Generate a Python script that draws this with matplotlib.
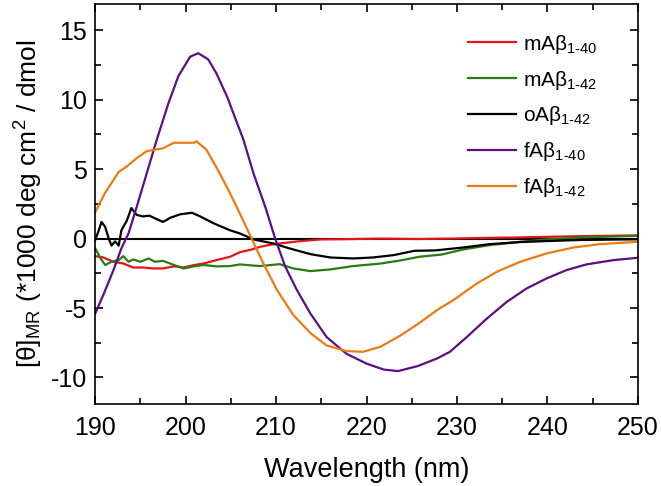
import numpy as np
import matplotlib.pyplot as plt
from matplotlib.ticker import MultipleLocator

plt.rcParams['font.family'] = ['Liberation Sans', 'DejaVu Sans']
plt.rcParams['mathtext.fontset'] = 'custom'
plt.rcParams['mathtext.rm'] = 'Liberation Sans'
plt.rcParams['mathtext.it'] = 'Liberation Sans:italic'
plt.rcParams['axes.unicode_minus'] = False

# CD spectra (wavelength nm, ellipticity)
wl_m40 = [190, 190.9, 192, 193.1, 194.2, 195.3, 196.4, 197.5, 198.7, 199.8, 200.9, 202,
          203.4, 204.9, 206, 207.2, 208.2, 209.3, 210.4, 212.7, 214.9, 217.8, 221.5,
          225.6, 229.3, 233, 236.6, 240.3, 244, 250]
m40 = [-1.26, -1.36, -1.67, -1.79, -2.08, -2.08, -2.15, -2.15, -2.0, -2.08, -1.91, -1.79,
       -1.55, -1.31, -0.98, -0.8, -0.6, -0.45, -0.35, -0.18, -0.06, -0.04, 0.0,
       -0.03, 0.0, 0.05, 0.08, 0.13, 0.18, 0.23]

wl_m42 = [190, 190.6, 191.1, 191.8, 192.6, 193.1, 193.7, 194.2, 195, 195.9, 196.6, 197.5,
          198.7, 199.8, 200.9, 202, 203.4, 204.9, 206, 208.2, 210.4, 211.9, 213.8,
          216, 218.5, 221.5, 223.7, 225.9, 228.3, 230.7, 233.6, 237, 239.9, 243.6, 250]
m42 = [-0.7, -1.43, -1.9, -1.67, -1.55, -1.26, -1.67, -1.5, -1.67, -1.43, -1.67, -1.6,
       -1.9, -2.15, -2.0, -1.9, -2.0, -1.98, -1.86, -1.98, -1.84, -2.15, -2.34,
       -2.22, -1.98, -1.8, -1.58, -1.3, -1.15, -0.78, -0.47, -0.23, -0.06, 0.08, 0.2]

wl_o42 = [190, 190.4, 190.7, 191.1, 191.5, 191.8, 192.2, 192.6, 192.9, 193.5, 194.0, 194.6,
          195.3, 196.0, 196.8, 197.5, 198.3, 199.4, 200.7, 201.6, 203.1, 204.9, 206.0,
          207.5, 209.7, 211.5, 213.8, 216, 218.5, 220.7, 223, 225.3, 227.6, 230.7, 233.6,
          237, 239.9, 243.6, 250]
o42 = [-0.1, 0.6, 1.2, 0.85, 0.0, -0.5, -0.2, -0.5, 0.6, 1.3, 2.2, 1.7,
       1.6, 1.65, 1.4, 1.2, 1.5, 1.75, 1.86, 1.6, 1.1, 0.6, 0.37,
       -0.06, -0.35, -0.71, -1.12, -1.36, -1.43, -1.36, -1.19, -0.88, -0.85, -0.64, -0.4,
       -0.25, -0.18, -0.1, -0.05]

wl_f40 = [190, 191, 192, 192.9, 193.7, 194.6, 195.7, 196.8, 198.1, 199.2, 200.5, 201.4,
          202.5, 203.4, 204.6, 205.7, 206.4, 207.5, 208.8, 209.9, 211.0, 212.3, 213.8,
          215.6, 217.8, 220.0, 221.9, 223.5, 225.7, 227.8, 229.2, 231.1, 233.3, 235.5,
          237.7, 239.9, 242.1, 244.3, 247.3, 250]
f40 = [-5.4, -3.9, -2.3, -0.7, 0.4, 2.3, 4.7, 7.1, 9.75, 11.7, 13.1, 13.35,
       12.9, 11.9, 10.2, 8.3, 7.1, 4.7, 2.3, 0.0, -2.0, -3.7, -5.4,
       -7.1, -8.3, -9.0, -9.43, -9.54, -9.17, -8.63, -8.16, -7.08, -5.76, -4.56,
       -3.59, -2.87, -2.27, -1.86, -1.55, -1.38]

wl_f42 = [190, 191.1, 192.6, 193.5, 194.6, 195.7, 197.5, 198.7, 200.9, 201.2, 202.3, 203.6,
          204.8, 206.0, 207.3, 208.6, 210.1, 211.9, 213.8, 215.6, 217.8, 219.6, 221.5,
          223.7, 225.9, 227.9, 229.6, 232.2, 234.4, 237, 239.9, 242.9, 245.8, 250]
f42 = [1.9, 3.3, 4.8, 5.2, 5.8, 6.3, 6.5, 6.9, 6.9, 7.0, 6.4, 4.9,
       3.4, 1.8, 0.0, -1.8, -3.7, -5.5, -6.8, -7.7, -8.1, -8.15, -7.8,
       -7.0, -6.05, -5.1, -4.43, -3.23, -2.39, -1.67, -1.07, -0.64, -0.4, -0.23]

series = [
    (wl_m40, m40, '#e3141b', 'mAβ$_{\\mathregular{1\u201040}}$'),
    (wl_m42, m42, '#2b7a14', 'mAβ$_{\\mathregular{1\u201042}}$'),
    (wl_o42, o42, 'black', 'oAβ$_{\\mathregular{1\u201042}}$'),
    (wl_f40, f40, '#5a0f86', 'fAβ$_{\\mathregular{1\u201040}}$'),
    (wl_f42, f42, '#ee7a14', 'fAβ$_{\\mathregular{1\u201042}}$'),
]

fig = plt.figure(figsize=(6.61, 4.86), dpi=100)
ax = fig.add_axes([0.144, 0.169, 0.821, 0.823])

ax.axhline(0, color='black', lw=1.5, zorder=1)
for x, y, c, lab in series:
    ax.plot(x, y, color=c, lw=1.6, label=lab)

ax.set_xlim(190, 250)
ax.set_ylim(-11.9, 16.9)
ax.xaxis.set_major_locator(MultipleLocator(10))
ax.xaxis.set_minor_locator(MultipleLocator(5))
ax.yaxis.set_major_locator(MultipleLocator(5))
ax.yaxis.set_minor_locator(MultipleLocator(2.5))
ax.tick_params(which='both', direction='in', top=True, right=True, width=1.2,
               labelsize=18)
ax.tick_params(axis='x', pad=9)
ax.tick_params(axis='y', pad=6)
ax.tick_params(which='major', length=6)
ax.tick_params(which='minor', length=4)
for s in ax.spines.values():
    s.set_linewidth(1.2)

ax.set_xlabel('Wavelength (nm)', fontsize=19.5, labelpad=12)
ax.set_ylabel('[θ]$_{\\mathregular{MR}}$ (*1000 deg cm$^{\\mathregular{2}}$ / dmol', fontsize=19,
              labelpad=4)

ax.legend(loc='upper right', frameon=False, fontsize=15, handlelength=2.3,
          handletextpad=0.3, labelspacing=0.62, bbox_to_anchor=(0.959, 0.975))

fig.savefig('out.png', dpi=100)
